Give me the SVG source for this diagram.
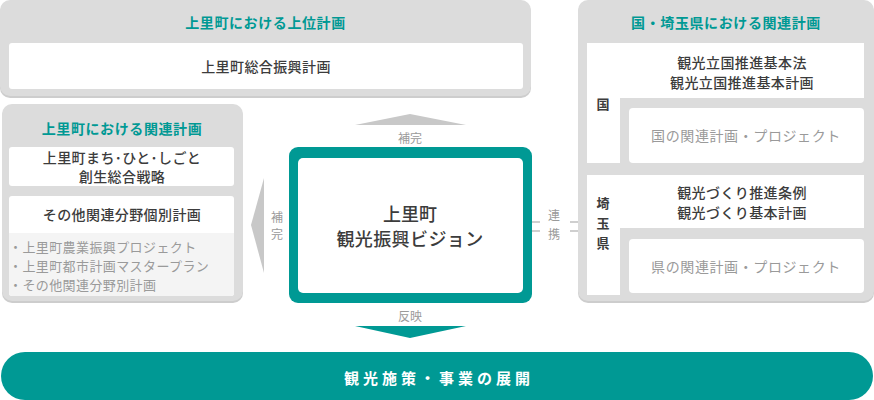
<svg xmlns="http://www.w3.org/2000/svg" width="874" height="400" viewBox="0 0 874 400">
<style>
text{font-family:"Noto Sans CJK JP","Noto Sans",sans-serif;text-anchor:middle;dominant-baseline:central}
.panel{fill:#dcdcdc}
.shadow{fill:#cdcdcd}
.w{fill:#fff}
.title{fill:#009994;font-size:14px;font-weight:700;letter-spacing:0.6px}
.dark{fill:#3c3c3c;font-size:14px;font-weight:500;letter-spacing:0.4px}
.light{fill:#9a9a9a;font-size:14px;font-weight:400;letter-spacing:0.6px}
.list{fill:#9a9a9a;font-size:13px;font-weight:400;letter-spacing:0.4px;text-anchor:start}
.lbl{fill:#9a9a9a;font-size:12px;font-weight:400}
.side{fill:#3c3c3c;font-size:13px;font-weight:700}
.conn{stroke:#cfcfcf;stroke-width:2;fill:none}
</style>
<g id="upper-plan">
<rect class="shadow" x="0" y="2" width="531" height="96" rx="10"/>
<rect class="panel" x="0" y="0" width="531" height="96" rx="10"/>
<text class="title" x="265.5" y="22">上里町における上位計画</text>
<rect class="w" x="9" y="43" width="514" height="46" rx="3"/>
<text class="dark" x="266" y="66">上里町総合振興計画</text>
</g>
<g id="town-related">
<rect class="shadow" x="2" y="106" width="241" height="197" rx="10"/>
<rect class="panel" x="2" y="104" width="241" height="197" rx="10"/>
<text class="title" x="122" y="128">上里町における関連計画</text>
<rect class="w" x="9" y="147" width="225" height="39" rx="3"/>
<text class="dark" x="122" y="157">上里町まち･ひと･しごと</text>
<text class="dark" x="122" y="176">創生総合戦略</text>
<rect class="w" x="9" y="196" width="225" height="100" rx="3"/>
<path d="M9 233H234V293a3 3 0 0 1-3 3H12a3 3 0 0 1-3-3Z" fill="#f4f4f4"/>
<text class="dark" x="122" y="214">その他関連分野個別計画</text>
<text class="list" x="9" y="246">・上里町農業振興プロジェクト</text>
<text class="list" x="9" y="265">・上里町都市計画マスタープラン</text>
<text class="list" x="9" y="284">・その他関連分野別計画</text>
</g>
<g id="vision">
<rect x="289" y="147" width="243" height="156" rx="9" fill="#009994"/>
<rect class="w" x="298" y="158" width="225" height="135" rx="5"/>
<text fill="#3c3c3c" font-size="18" font-weight="500" x="410" y="213">上里町</text>
<text fill="#3c3c3c" font-size="18" font-weight="500" x="410" y="238" letter-spacing="0.4">観光振興ビジョン</text>
</g>
<g id="national-prefecture">
<rect class="shadow" x="578" y="2" width="296" height="301" rx="10"/>
<rect class="panel" x="578" y="0" width="296" height="301" rx="10"/>
<text class="title" x="726" y="22">国・埼玉県における関連計画</text>
<g id="national">
<rect class="w" x="587" y="43" width="277" height="55"/>
<rect class="w" x="587" y="43" width="33" height="120"/>
<rect class="w" x="629" y="108" width="235" height="55" rx="4"/>
<text class="dark" x="742" y="62">観光立国推進基本法</text>
<text class="dark" x="742" y="82">観光立国推進基本計画</text>
<text class="side" x="603" y="103">国</text>
<text class="light" x="746" y="135">国の関連計画・プロジェクト</text>
</g>
<g id="prefecture">
<rect class="w" x="587" y="175" width="277" height="53"/>
<rect class="w" x="587" y="175" width="33" height="120"/>
<rect class="w" x="629" y="239" width="235" height="54" rx="4"/>
<text class="dark" x="742" y="192">観光づくり推進条例</text>
<text class="dark" x="742" y="212">観光づくり基本計画</text>
<text class="side" x="603" y="202">埼</text>
<text class="side" x="603" y="222">玉</text>
<text class="side" x="603" y="242">県</text>
<text class="light" x="746" y="266">県の関連計画・プロジェクト</text>
</g>
</g>
<g id="result">
<rect x="1" y="352" width="872" height="48" rx="24" fill="#009994"/>
<text fill="#fff" font-size="15" font-weight="700" letter-spacing="4" x="439" y="377">観光施策・事業の展開</text>
</g>
<g id="connectors">
<polygon points="355,125 466,125 410,114" fill="#c8c8c8"/>
<text class="lbl" x="410" y="137">補完</text>
<polygon points="264,178 264,273 251,225" fill="#c8c8c8"/>
<text class="lbl" x="277" y="216">補</text>
<text class="lbl" x="277" y="233">完</text>
<path class="conn" d="M532 222H540M532 231H540M570 222H578M570 231H578"/>
<text class="lbl" x="554" y="214">連</text>
<text class="lbl" x="554" y="233">携</text>
<text class="lbl" x="410" y="315">反映</text>
<polygon points="355,326 466,326 410,338" fill="#009994"/>
</g>
</svg>
